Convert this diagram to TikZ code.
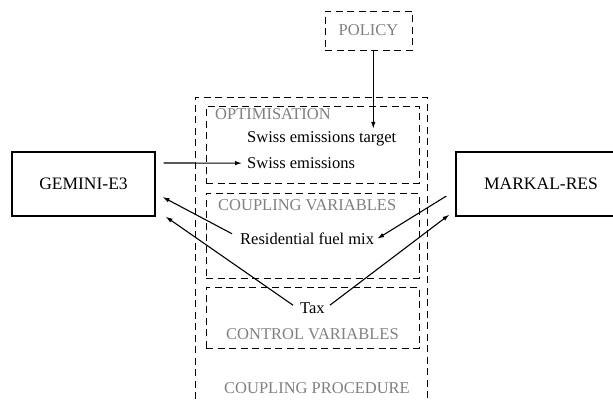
\documentclass[tikz,border=0pt]{standalone}
\usepackage{fontspec}
\setmainfont{Liberation Serif}
\usetikzlibrary{arrows.meta}
\begin{document}
\begin{tikzpicture}[x=1pt,y=-1pt,
  every node/.style={font=\fontsize{16.5}{19}\selectfont},
  model/.style={draw, line width=1.2pt, minimum height=64pt, inner sep=0pt, font=\fontsize{17.5}{20}\selectfont},
  dbox/.style={draw, dash pattern=on 7pt off 4.5pt, line width=0.9pt, inner sep=0pt},
  glabel/.style={text=black!50, inner sep=0pt},
  var/.style={inner sep=0pt},
  arr/.style={-{Latex[length=7pt,width=4.5pt]}, line width=1.1pt}
]
\useasboundingbox (0,0) rectangle (613,399);

% coupling procedure (outer, open at bottom)
\draw[dbox] (195,399) -- (195,97) -- (427,97) -- (427,399);
\node[glabel, anchor=base] (couproc) at (317,393.5) {COUPLING PROCEDURE};

% inner dashed boxes
\node[dbox, minimum width=213pt, minimum height=77pt] (optbox) at (312.5,144.5) {};
\node[dbox, minimum width=213pt, minimum height=85pt] (cvbox) at (312.5,235.5) {};
\node[dbox, minimum width=213pt, minimum height=61pt] (ctrlbox) at (312.5,317.5) {};
\node[dbox, text=black!50, minimum width=87pt, minimum height=39pt] (policy) at (368.5,30.5) {POLICY};

% labels
\node[glabel, anchor=base west] (optim) at (215,119.5) {OPTIMISATION};
\node[glabel, anchor=base west] (coupvar) at (218,210.5) {COUPLING VARIABLES};
\node[glabel, anchor=base west] (ctrlvar) at (226,339.5) {CONTROL VARIABLES};

% variables
\node[var, anchor=base west] (swisstarget) at (247,142.5) {Swiss emissions target};
\node[var, anchor=base west] (swissem) at (247,168.5) {Swiss emissions};
\node[var, anchor=base west] (resid) at (240,244.5) {Residential fuel mix};
\node[var, anchor=base west] (tax) at (300,313.5) {Tax};

% models
\node[model, minimum width=143pt] (gemini) at (83.5,184) {GEMINI-E3};
\node[model, minimum width=170pt] (markal) at (541,184) {MARKAL-RES};

% connectors
\draw[arr] ([xshift=4.8pt]policy.south) -- ++(0,78.3);
\draw[arr] ([xshift=8pt,yshift=21pt]gemini.east) -- ([xshift=-5pt]swissem.west);
\draw[arr] ([xshift=-8pt,yshift=5pt]resid.west) -- ([xshift=7pt,yshift=-13pt]gemini.east);
\draw[arr] ([xshift=-7pt,yshift=3pt]tax.west) -- ([xshift=10pt]gemini.south east);
\draw[arr] ([xshift=-9pt,yshift=-12pt]markal.west) -- ([xshift=3pt]resid.east);
\draw[arr] ([xshift=5pt,yshift=3pt]tax.east) -- ([xshift=-6pt,yshift=2pt]markal.south west);
\end{tikzpicture}
\end{document}
